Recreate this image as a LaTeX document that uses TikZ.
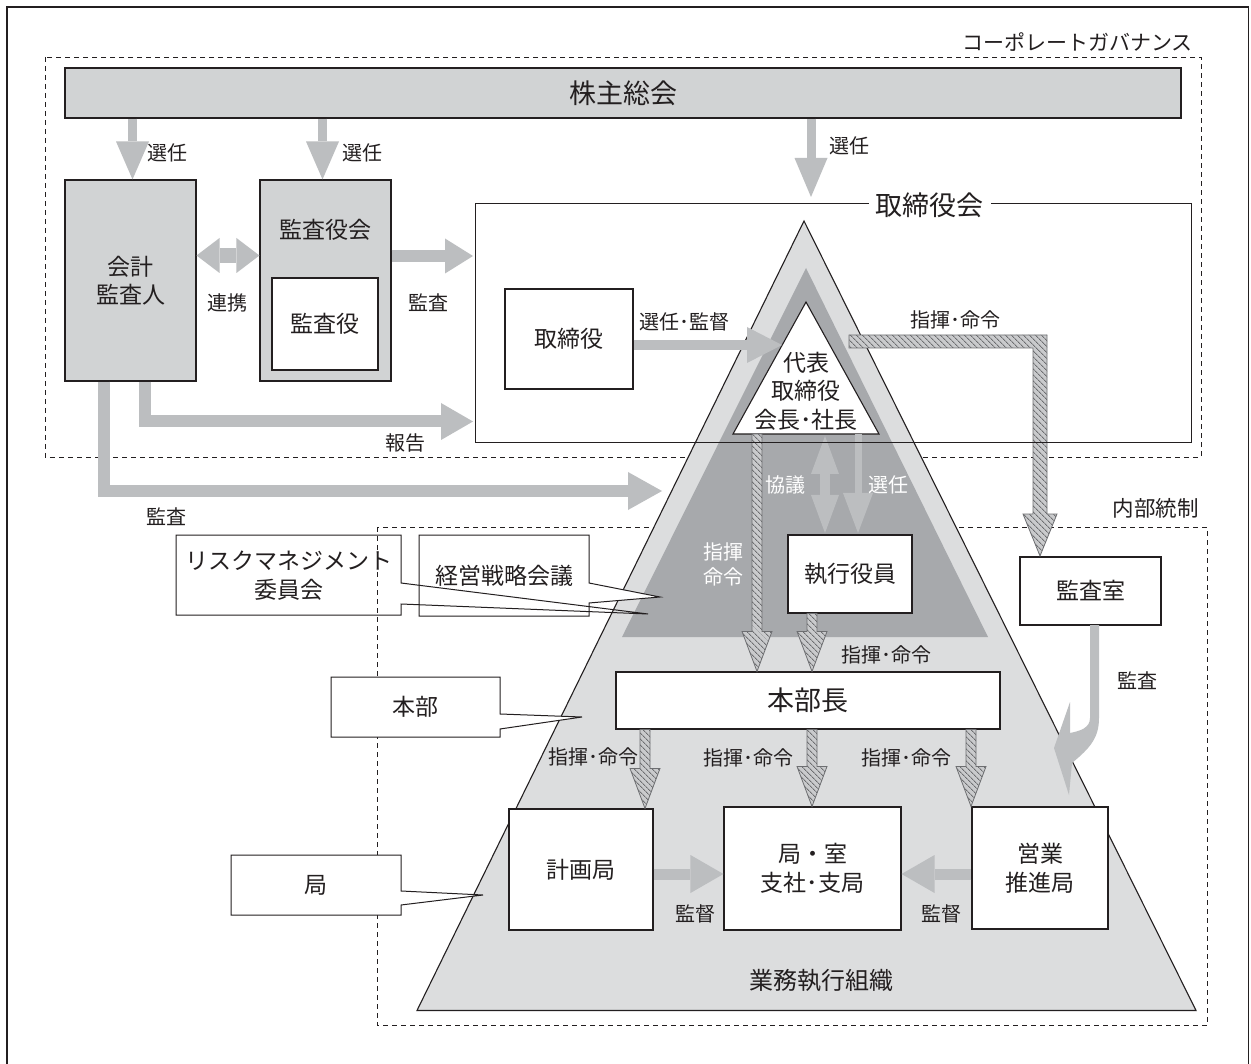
\documentclass[tikz,border=0pt]{standalone}
\usepackage{fontspec}
\setmainfont{Noto Sans CJK JP}
\usetikzlibrary{arrows.meta,patterns,patterns.meta,calc}
\definecolor{ink}{HTML}{231F20}
\definecolor{barfill}{HTML}{D1D3D4}
\definecolor{pyrfill}{HTML}{DCDDDE}
\definecolor{darkfill}{HTML}{A7A9AC}
\definecolor{arrfill}{HTML}{BCBEC0}
\definecolor{hatchbg}{HTML}{C9CACC}
\definecolor{hatchln}{HTML}{6D6E71}
\newcommand\fzA{\fontsize{20}{25}\selectfont}
\newcommand\fzB{\fontsize{23}{28.5}\selectfont}
\newcommand\fzC{\fontsize{27}{32}\selectfont}
\newcommand\hatchdown[2]{\path[hatcharrow] let \p1=(#1), \p2=(#2) in
  (\x2-5pt,\y1) -- (\x2-5pt,\y2+40pt) -- (\x2-15pt,\y2+40pt) -- (\x2,\y2)
  -- (\x2+15pt,\y2+40pt) -- (\x2+5pt,\y2+40pt) -- (\x2+5pt,\y1) -- cycle;}
\begin{document}
\begin{tikzpicture}[x=1pt,y=-1pt,
  box/.style={draw=ink, line width=1.1pt, fill=white, text=ink, inner sep=0pt, align=center, font=\fzB},
  gbox/.style={box, fill=barfill},
  lbl/.style={text=ink, inner sep=0pt, align=center, font=\fzA},
  wlbl/.style={lbl, text=white},
  dashbox/.style={draw=ink, line width=0.9pt, dash pattern=on 5pt off 4pt},
  callout/.style={draw=ink, line width=1pt},
  hatcharrow/.style={draw=hatchln, line width=0.8pt, preaction={fill=hatchbg}, pattern={Lines[angle=-45, distance=4pt, line width=0.9pt]}, pattern color=hatchln},
  garrow/.style n args={3}{draw=arrfill, line width=#1pt, -{Triangle[length=#2pt,width=#3pt,line width=0pt]}},
  gdouble/.style n args={3}{draw=arrfill, line width=#1pt, {Triangle[length=#2pt,width=#3pt,line width=0pt]}-{Triangle[length=#2pt,width=#3pt,line width=0pt]}}
]
\useasboundingbox (0,0) rectangle (1251,1064);
\fill[white] (0,0) rectangle (1251,1064);
% outer frame
\draw[ink, line width=1.2pt] (7,1064) -- (7,7) -- (1248.5,7) -- (1248.5,1064);
% dashed groups
\draw[dashbox] (45,57) rectangle (1201,457);
\draw[dashbox] (377.5,527) rectangle (1207,1025.5);
\node[lbl, anchor=east, font=\fontsize{21}{25}\selectfont] (cglabel) at (1193,42) {コーポレートガバナンス};
\node[lbl, anchor=east, font=\fontsize{21.5}{25}\selectfont] (iclabel) at (1199,508) {内部統制};

% top boxes
\node[gbox, minimum width=1116, minimum height=50, font=\fzC] (bar) at (623,93) {株主総会};
\node[gbox, minimum width=131, minimum height=201] (kaikei) at (130.5,280.5) {会計\\監査人};
\node[gbox, minimum width=131, minimum height=201] (kansakai) at (325.5,280.5) {};
\node[lbl, font=\fzB] (kansakailbl) at (325.5,230) {監査役会};
\node[box, minimum width=106, minimum height=92] (kansayaku) at (325,324) {監査役};
\node[minimum width=715, minimum height=238, inner sep=0pt] (torikai) at (833.5,323) {};
\node[box, minimum width=128, minimum height=100] (torishimari) at (569,339) {取締役};

% top arrows
\draw[garrow={9}{38}{33}] (bar.south -| 132.5,0) -- (kaikei.north -| 132.5,0);
\draw[garrow={9}{38}{33}] (bar.south -| 322.5,0) -- (kansakai.north -| 322.5,0);
\draw[garrow={9}{39}{33}] (bar.south -| 811,0) -- (811,197);
\node[lbl] at (167.5,153) {選任};
\node[lbl] at (362,153) {選任};
\node[lbl] at (849,146) {選任};
\draw[gdouble={15}{23}{35}] (kaikei.east |- 0,255.5) -- (kansakai.west |- 0,255.5);
\node[lbl] at (227.5,303) {連携};
\draw[garrow={12}{28}{35}] (kansakai.east |- 0,256) -- (473,256);
\node[lbl] at (428.5,303) {監査};
\draw[garrow={12}{32}{37}, line join=miter] (kaikei.south -| 145,0) |- (473,421.5);
\node[lbl] at (405,443) {報告};
\draw[garrow={12}{34}{38}, line join=miter] (kaikei.south -| 104,0) |- (662,491);
\node[lbl] at (166.5,517) {監査};

% pyramid
\filldraw[fill=pyrfill, draw=ink, line width=1.1pt] (804,221) -- (1196,1010.5) -- (417,1010.5) -- cycle;
\fill[darkfill] (806,268) -- (988,637) -- (622,637) -- cycle;
\filldraw[fill=white, draw=ink, line width=1.1pt] (806,302) -- (879,434) -- (733,434) -- cycle;
\node[lbl, font=\fzB] (daihyo) at (806,391) {代表\\取締役\\会長･社長};

% arrows inside pyramid
\draw[garrow={10}{35}{36}] (torishimari.east |- 0,345) -- (782,345);
\node[lbl] at (684,322) {選任･監督};
\draw[gdouble={10}{38}{28}] (825,436) -- (825,533);
\draw[garrow={7}{40}{30}] (858,434) -- (858,533);
\node[wlbl] at (785,485) {協議};
\node[wlbl] at (888.5,485) {選任};
\node[wlbl] at (723,564) {指揮\\命令};

% boxes inside pyramid
\node[box, minimum width=124, minimum height=78] (shikko) at (850,574) {執行役員};
\node[box, minimum width=141, minimum height=68] (kansashitsu) at (1090.5,591) {監査室};
\node[box, minimum width=384, minimum height=57, font=\fzC] (honbucho) at (808,700.5) {本部長};
\node[box, minimum width=144, minimum height=121] (keikaku) at (581,869.5) {計画局};
\node[box, minimum width=177, minimum height=123] (kyoku) at (812.5,868.5) {局・室\\支社･支局};
\node[box, minimum width=136, minimum height=122] (eigyo) at (1040,868) {営業\\推進局};

% hatched arrows
\path[hatcharrow] (849,335) -- (1047,335) -- (1047,514) -- (1057,514) -- (1040,556)
  -- (1023,514) -- (1033,514) -- (1033,348) -- (849,348) -- cycle;
\node[lbl] at (955,320) {指揮･命令};
\hatchdown{757,434}{honbucho.north -| 757,0}
\hatchdown{shikko.south -| 812,0}{honbucho.north -| 812,0}
\node[lbl] at (886,655) {指揮･命令};
\hatchdown{honbucho.south -| 645,0}{keikaku.north -| 645,0}
\hatchdown{honbucho.south -| 812,0}{kyoku.north -| 812,0}
\hatchdown{honbucho.south -| 971,0}{eigyo.north -| 971,0}
\node[lbl] at (593,757) {指揮･命令};
\node[lbl] at (748,758) {指揮･命令};
\node[lbl] at (906,758) {指揮･命令};

% supervision arrows
\draw[garrow={11}{33}{38}] (keikaku.east |- 0,874) -- (kyoku.west |- 0,874);
\draw[garrow={11}{33}{38}] (eigyo.west |- 0,874) -- (kyoku.east |- 0,874);
\node[lbl] at (695,914) {監督};
\node[lbl] at (941,914) {監督};
\node[lbl, font=\fontsize{24}{28}\selectfont] at (821,981) {業務執行組織};

% curved audit arrow
\fill[arrfill] (1090,625) -- (1090,718) .. controls (1090,728) and (1080,731) .. (1070,733)
  -- (1070,702) -- (1054,748) -- (1069,795) -- (1072,763)
  .. controls (1090,748) and (1099,738) .. (1099,718) -- (1099,625) -- cycle;
\node[lbl] at (1137,681) {監査};

% board of directors frame
\draw[ink, line width=1.1pt] (torikai.north west) rectangle (torikai.south east);
\node[fill=white, text=ink, inner xsep=7pt, inner ysep=0pt, font=\fzC] (torikailbl) at (929.5,205) {取締役会};

% callouts
\filldraw[callout, fill=white] (419,535) -- (589,535) -- (589,583) -- (660,597) -- (589,603) -- (589,616) -- (419,616) -- cycle;
\node[lbl, font=\fzB] (keiei) at (504,576) {経営戦略会議};
\draw[callout] (176,535) -- (401,535) -- (401,583) -- (648,614) -- (401,604) -- (401,615) -- (176,615) -- cycle;
\node[lbl, font=\fzB] (risk) at (289,575.5) {リスクマネジメント\\委員会};
\filldraw[callout, fill=white] (331,677) -- (500,677) -- (500,714) -- (582,717) -- (500,729) -- (500,737) -- (331,737) -- cycle;
\node[lbl, font=\fzB] (honbu) at (415.5,707) {本部};
\filldraw[callout, fill=white] (231,855) -- (401,855) -- (401,891) -- (483,895) -- (401,905) -- (401,915) -- (231,915) -- cycle;
\node[lbl, font=\fzB] (kyokulbl) at (316,885) {局};
\end{tikzpicture}
\end{document}
